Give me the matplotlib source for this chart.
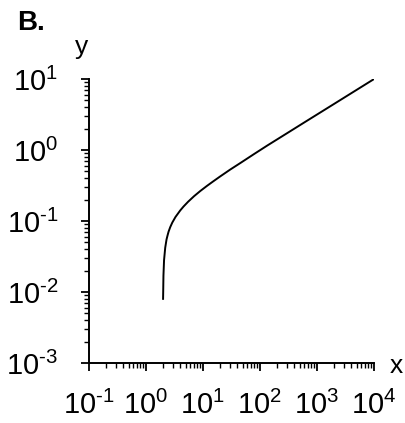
import matplotlib.pyplot as plt
import matplotlib as mpl
import numpy as np

mpl.rcParams["font.family"] = ["Liberation Sans", "DejaVu Sans"]
mpl.rcParams["mathtext.fontset"] = "custom"
mpl.rcParams["mathtext.rm"] = "Liberation Sans"
mpl.rcParams["mathtext.it"] = "Liberation Sans:italic"
mpl.rcParams["axes.unicode_minus"] = False

# curve read along its length
x = [2.0, 2.01, 2.03, 2.08, 2.18, 2.3, 2.4, 2.5, 2.67, 2.9, 3.3, 4.0, 4.57, 5.5, 7.0, 9.0, 11.8,
     15, 20, 30, 45.8, 80, 135, 300, 600, 2000, 5000, 10000]
y = [0.008, 0.010, 0.017, 0.028, 0.042, 0.055, 0.063, 0.071, 0.082, 0.095, 0.114, 0.141, 0.16,
     0.187, 0.224, 0.265, 0.313, 0.36, 0.424, 0.53, 0.66, 0.885, 1.16, 1.73, 2.45, 4.47, 7.07, 10]


def dec_label(v, pos):
    e = int(round(np.log10(v)))
    return r"$10^{\text{%d}}$" % e


fig = plt.figure(figsize=(4.06, 4.23), dpi=100)
ax = fig.add_axes([0.219, 0.142, 0.702, 0.671])

ax.plot(x, y, color="k", lw=1.4)
ax.set_xscale("log")
ax.set_yscale("log")
ax.set_xlim(0.1, 1e4)
ax.set_ylim(1e-3, 10)

ax.spines["top"].set_visible(False)
ax.spines["right"].set_visible(False)
for s in ("left", "bottom"):
    ax.spines[s].set_linewidth(1.4)

for axis in (ax.xaxis, ax.yaxis):
    axis.set_major_locator(mpl.ticker.LogLocator(base=10, numticks=10))
    axis.set_minor_locator(mpl.ticker.LogLocator(base=10, subs=np.arange(2, 10), numticks=20))
    axis.set_major_formatter(mpl.ticker.FuncFormatter(dec_label))
    axis.set_minor_formatter(mpl.ticker.NullFormatter())

ax.tick_params(which="major", direction="out", length=6, width=1.3, labelsize=21)
ax.tick_params(which="minor", direction="out", length=3.5, width=1.0)
ax.tick_params(axis="x", which="major", pad=14)
ax.tick_params(axis="y", which="major", pad=16)

fig.text(0.042, 0.946, "B.", fontsize=20, fontweight="bold", ha="left", va="center")
fig.text(0.202, 0.89, "y", fontsize=19, ha="center", va="center")
fig.text(0.975, 0.135, "x", fontsize=19, ha="center", va="center")

plt.savefig("out.png", dpi=100)
